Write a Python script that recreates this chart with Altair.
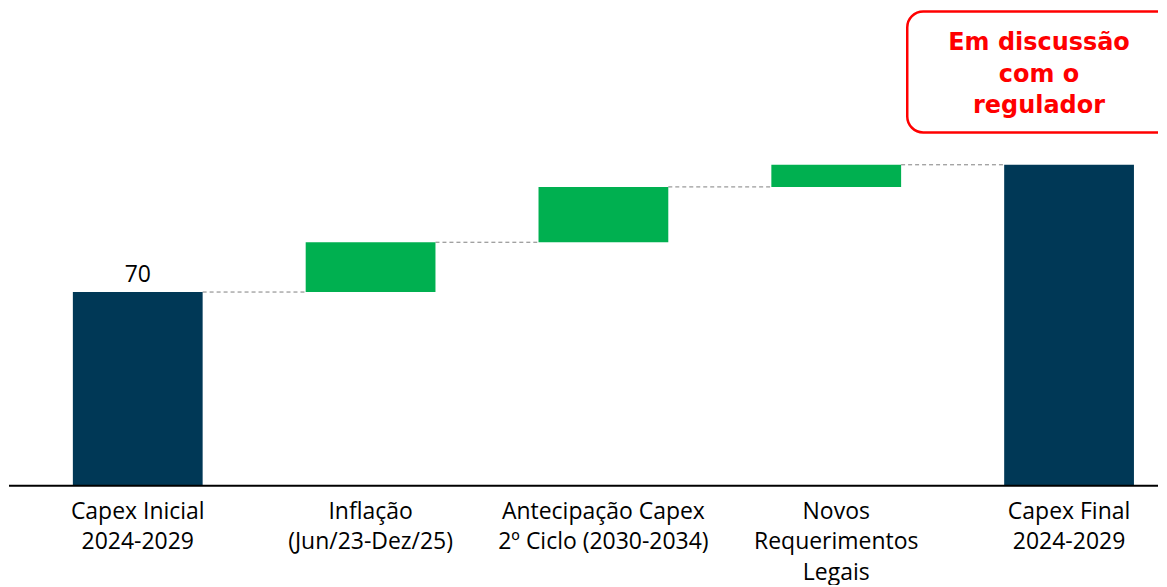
import altair as alt
import pandas as pd

categories = ["Capex Inicial", "Inflação", "Antecipação Capex", "Novos Requerimentos", "Capex Final"]
label_lines = [
    "Capex Inicial\n2024-2029",
    "Inflação\n(Jun/23-Dez/25)",
    "Antecipação Capex\n2º Ciclo (2030-2034)",
    "Novos\nRequerimentos\nLegais",
    "Capex Final\n2024-2029",
]
values = [70, 18, 20, 8, 116]
kinds = ["total", "delta", "delta", "delta", "total"]
value_labels = ["70", "", "", "", ""]
annotation_text = "Em discussão\ncom o\nregulador"

NAVY = "#003856"
GREEN = "#00B050"
HALF = 0.2787
XMIN, XMAX = -0.553, 4.382

rows = []
prev = 0
for i, (c, v, k, lab, vl) in enumerate(zip(categories, values, kinds, label_lines, value_labels)):
    if k == "total":
        s, e = 0, v
    else:
        s, e = prev, prev + v
    prev = e
    rows.append(dict(idx=i, cat=c, ystart=s, yend=e, kind=k, label=lab, vlabel=vl,
                     xa=i - HALF, xb=i + HALF, base=0))
df = pd.DataFrame(rows)

conn = pd.DataFrame([
    dict(xa=rows[i]["xb"], xb=rows[i + 1]["xa"], yv=rows[i]["yend"])
    for i in range(len(rows) - 1)
])

axis_df = pd.DataFrame([dict(xa=XMIN, xb=XMAX, yv=0)])
box_df = pd.DataFrame([dict(xa=3.305, xb=4.6, ya=127.7, yb=171.4, xc=3.871, yc=160.0, t=annotation_text)])

xs = alt.Scale(domain=[XMIN, XMAX], nice=False, zero=False)
ys = alt.Scale(domain=[0, 172.5], nice=False)

bars = alt.Chart(df).mark_bar().encode(
    x=alt.X("xa:Q", scale=xs, axis=None),
    x2="xb:Q",
    y=alt.Y("ystart:Q", scale=ys, axis=None),
    y2="yend:Q",
    color=alt.Color("kind:N", scale=alt.Scale(domain=["total", "delta"], range=[NAVY, GREEN]), legend=None),
)

connectors = alt.Chart(conn).mark_rule(color="#7F7F7F", strokeDash=[4, 3], strokeWidth=1).encode(
    x=alt.X("xa:Q", scale=xs, axis=None), x2="xb:Q", y=alt.Y("yv:Q", scale=ys, axis=None)
)

baseline = alt.Chart(axis_df).mark_rule(color="black", strokeWidth=2).encode(
    x=alt.X("xa:Q", scale=xs, axis=None), x2="xb:Q", y=alt.Y("yv:Q", scale=ys, axis=None)
)

vlab = alt.Chart(df).mark_text(font="Open Sans", fontSize=23, color="black", baseline="bottom", dy=-5).encode(
    x=alt.X("idx:Q", scale=xs, axis=None), y=alt.Y("yend:Q", scale=ys, axis=None), text="vlabel:N"
)

xlab = alt.Chart(df).mark_text(font="Open Sans", fontSize=23, color="black", baseline="top", dy=15,
                               lineBreak="\n", lineHeight=30.5, align="center").encode(
    x=alt.X("idx:Q", scale=xs, axis=None), y=alt.Y("base:Q", scale=ys, axis=None), text="label:N"
)

box = alt.Chart(box_df).mark_rect(
    fill="white", stroke="#FF0000", strokeWidth=2.5, cornerRadius=16, clip=True
).encode(
    x=alt.X("xa:Q", scale=xs, axis=None), x2="xb:Q",
    y=alt.Y("ya:Q", scale=ys, axis=None), y2="yb:Q",
)

box_text = alt.Chart(box_df).mark_text(
    font="DejaVu Sans", fontWeight="bold", fontSize=24, color="#FF0000",
    lineBreak="\n", lineHeight=31.5, baseline="middle", align="center"
).encode(
    x=alt.X("xc:Q", scale=xs, axis=None), y=alt.Y("yc:Q", scale=ys, axis=None), text="t:N"
)

chart = alt.layer(connectors, bars, baseline, vlab, xlab, box, box_text).properties(
    width=1151, height=478, padding=0,
).configure_view(strokeWidth=0)

chart.save("out.html", embed_options={"renderer": "svg", "actions": False})
